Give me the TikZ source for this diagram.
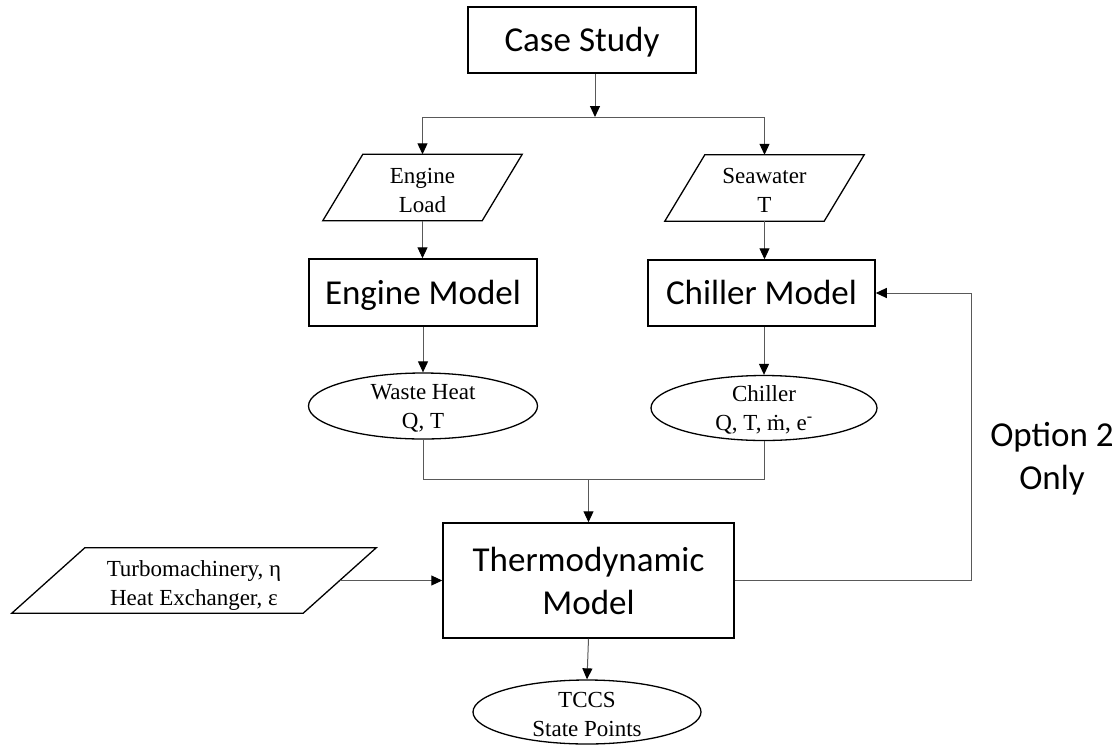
\documentclass[tikz,border=0pt]{standalone}
\usepackage{fontspec}
\setmainfont{Liberation Serif}
\newfontfamily\calibfont{Carlito}
\usetikzlibrary{arrows.meta,shapes.geometric,calc}

\tikzset{
  bigbox/.style={draw=black, line width=1.5pt, rectangle, align=center, inner sep=0pt,
    font=\calibfont\fontsize{35}{43}\selectfont},
  oneline/.style={text height=23pt, text depth=0pt},
  smalltext/.style={align=center, inner sep=0pt, font=\fontsize{23}{29}\selectfont},
  oval/.style={ellipse, draw=black, line width=1.3pt, inner sep=0pt},
  paraslot/.style={rectangle, inner sep=0pt},
  link/.style={draw=black!65, line width=1pt},
  arr/.style={link, -{Triangle[length=11pt,width=10pt,color=black,fill=black]}},
}

% parallelogram drawn round a named node: #1 node, #2 horizontal offset of the slanted sides
\newcommand\paraframe[2]{%
  \draw[line width=1.3pt, line join=miter]
    ($(#1.south west)+(-#2,0)$) -- ($(#1.south east)+(-#2,0)$) --
    ($(#1.north east)+(#2,0)$) -- ($(#1.north west)+(#2,0)$) -- cycle;}

\begin{document}
\begin{tikzpicture}[x=1pt, y=-1pt]
\useasboundingbox (0,0) rectangle (1120,745);

% boxes
\node[bigbox, oneline, minimum width=228pt, minimum height=66pt] (case) at (582,40) {Case Study};
\node[bigbox, oneline, minimum width=228pt, minimum height=67pt] (emodel) at (423,292.5) {Engine Model};
\node[bigbox, oneline, minimum width=227pt, minimum height=66pt] (cmodel) at (761.5,293) {Chiller Model};
\node[bigbox, minimum width=291pt, minimum height=115pt] (thermo) at (588.5,580.5) {Thermodynamic\\Model};

% inputs (parallelograms)
\node[paraslot, minimum width=159pt, minimum height=66pt] (eload) at (422.5,187.5) {};
\paraframe{eload}{20}
\node[smalltext] (eload-t) at ([yshift=-3pt]eload.center) {Engine\\Load};
\node[paraslot, minimum width=159pt, minimum height=66pt] (sea) at (764.5,188) {};
\paraframe{sea}{20}
\node[smalltext] (sea-t) at ([yshift=-2.5pt]sea.center) {Seawater\\T};
\node[paraslot, minimum width=291pt, minimum height=65pt] (turbo) at (194,580.5) {};
\paraframe{turbo}{36.5}
\node[smalltext] (turbo-t) at ([yshift=-4.5pt]turbo.center) {Turbomachinery, η\\Heat Exchanger, ε};

% outputs (ellipses)
\node[oval, minimum width=229pt, minimum height=66pt] (wheat) at (423,406) {};
\node[smalltext] (wheat-t) at ([yshift=-2.5pt]wheat.center) {Waste Heat\\Q, T};
\node[oval, minimum width=226pt, minimum height=65pt] (chill) at (764,408) {};
\node[smalltext] (chill-t) at ([yshift=-1.5pt]chill.center) {Chiller\\Q, T, \.{m}, e\textsuperscript{-}};
\node[oval, minimum width=228pt, minimum height=64pt] (tccs) at (587,712) {};
\node[smalltext] (tccs-t) at ([yshift=-2pt]tccs.center) {TCCS\\State Points};

% side note
\node[align=center, inner sep=0pt, font=\calibfont\fontsize{35}{43}\selectfont] (opt) at (1052,459) {Option 2\\Only};

% connectors
\coordinate (split) at (595,117);
\coordinate (merge) at (588.5,479.5);
\coordinate (loop) at (971,0);

\draw[arr] (case.south -| split) -- (split);
\draw[link] (eload.north |- split) -- (sea.north |- split);
\draw[arr] (eload.north |- split) -- (eload.north);
\draw[arr] (sea.north |- split) -- (sea.north);
\draw[arr] (eload.south) -- (eload.south |- emodel.north);
\draw[arr] (sea.south) -- (sea.south |- cmodel.north);
\draw[arr] (emodel.south) -- (wheat.north);
\draw[arr] (cmodel.south -| chill.north) -- (chill.north);
\draw[link] (wheat.south) -- (wheat.south |- merge) -- (chill.south |- merge) -- (chill.south);
\draw[arr] (merge) -- (thermo.north);
\draw[arr] (turbo.east) -- (thermo.west |- turbo.east);
\draw[arr] (thermo.east) -- (thermo.east -| loop) -- (cmodel.east -| loop) -- (cmodel.east);
\draw[arr] (thermo.south) -- (tccs.north);
\end{tikzpicture}
\end{document}
